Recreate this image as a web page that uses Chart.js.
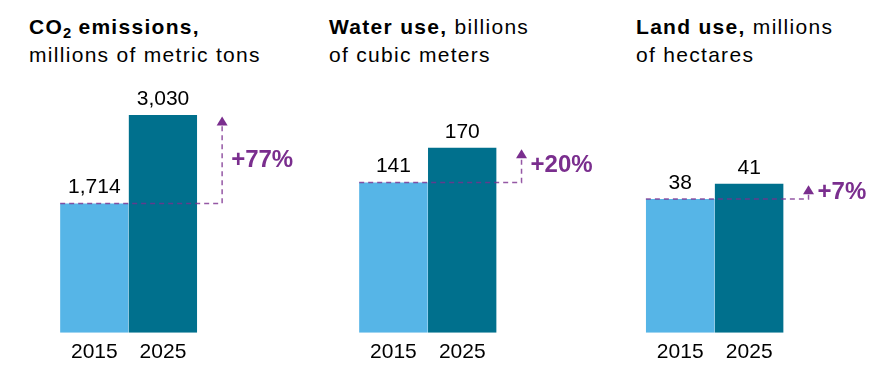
<!DOCTYPE html>
<html>
<head>
<meta charset="utf-8">
<script src="https://cdn.jsdelivr.net/npm/chart.js@4.4.1/dist/chart.umd.min.js"></script>
<style>
  html, body { margin: 0; padding: 0; background: #fff; }
  body { width: 882px; height: 372px; position: relative; overflow: hidden;
         font-family: "Liberation Sans", Arial, Helvetica, sans-serif; color: #000; }
  .title { position: absolute; top: 13px; font-size: 21px; line-height: 28px;
           letter-spacing: 1.3px; white-space: nowrap; }
  .title sub { font-size: 0.7em; line-height: 0; vertical-align: -0.25em; letter-spacing: 0; }
  canvas { position: absolute; top: 80px; }
</style>
</head>
<body>
<div class="title" style="left:29px"><b>CO<sub>2</sub> emissions,</b><br>millions of metric tons</div>
<div class="title" style="left:329px"><b>Water use,</b> billions<br>of cubic meters</div>
<div class="title" style="left:636px"><b>Land use,</b> millions<br>of hectares</div>

<canvas id="c0" width="300" height="292" style="left:0px"></canvas>
<canvas id="c1" width="300" height="292" style="left:300px"></canvas>
<canvas id="c2" width="282" height="292" style="left:600px"></canvas>

<script>
// data
const years = ['2015', '2025'];
const co2Values = [1714, 3030];
const waterValues = [141, 170];
const landValues = [38, 41];
const changeLabels = ['+77%', '+20%', '+7%'];
// value scale per panel (the original isn't drawn from zero)
const axisMin = [-214, 15, 11.8];
const axisMax = [3254, 210, 57.4];

const panels = [co2Values, waterValues, landValues];
const padLeft = [60, 59, 45.7];
const padRight = [102.7, 103.3, 98.3];

const FONT = '"Liberation Sans", Arial, Helvetica, sans-serif';
const LIGHT = '#56b5e7';
const DARK = '#00708d';
const PURPLE = '#7a2e8e';

// labels above bars + dashed change marker
const changePlugin = {
  id: 'change',
  afterDatasetsDraw(chart, args, opts) {
    const ctx = chart.ctx;
    const bars = chart.getDatasetMeta(0).data;
    const vals = chart.data.datasets[0].data;
    const b0 = bars[0], b1 = bars[1];

    ctx.save();
    ctx.font = '21px ' + FONT;
    ctx.fillStyle = '#000';
    ctx.textAlign = 'center';
    ctx.textBaseline = 'alphabetic';
    bars.forEach((b, i) => {
      ctx.fillText(vals[i].toLocaleString('en-US'), b.x, b.y - 10);
    });

    const lineY = b0.y;
    const xv = b1.x + b1.width / 2 + 25;
    const arrowH = 9, arrowW = 11;
    const tipY = Math.min(b1.y + 1.5, lineY - arrowH - 3);

    ctx.strokeStyle = 'rgba(122,46,142,0.8)';
    ctx.lineWidth = 1.5;
    ctx.setLineDash([5, 4]);
    ctx.beginPath();
    ctx.moveTo(b0.x - b0.width / 2, lineY);
    ctx.lineTo(xv, lineY);
    if (lineY - (tipY + arrowH) > 4) ctx.lineTo(xv, tipY + arrowH);
    ctx.stroke();
    ctx.setLineDash([]);

    ctx.fillStyle = PURPLE;
    ctx.beginPath();
    ctx.moveTo(xv, tipY);
    ctx.lineTo(xv + arrowW / 2, tipY + arrowH);
    ctx.lineTo(xv - arrowW / 2, tipY + arrowH);
    ctx.closePath();
    ctx.fill();

    ctx.font = 'bold 24px ' + FONT;
    ctx.textAlign = 'left';
    ctx.textBaseline = 'middle';
    ctx.fillText(opts.label, xv + 9, (lineY + tipY) / 2);
    ctx.restore();
  }
};

panels.forEach((values, i) => {
  new Chart(document.getElementById('c' + i), {
    type: 'bar',
    data: {
      labels: years,
      datasets: [{
        data: values,
        base: axisMin[i],
        backgroundColor: [LIGHT, DARK],
        borderWidth: 0,
        barPercentage: 1,
        categoryPercentage: 0.995,
      }],
    },
    options: {
      responsive: false,
      animation: false,
      layout: { padding: { left: padLeft[i], right: padRight[i], top: 20, bottom: 0 } },
      scales: {
        x: {
          grid: { display: false, drawTicks: false },
          border: { display: false },
          ticks: { color: '#000', font: { family: FONT, size: 21 }, padding: 7 },
        },
        y: { display: false, min: axisMin[i], max: axisMax[i] },
      },
      plugins: {
        legend: { display: false },
        tooltip: { enabled: false },
        change: { label: changeLabels[i] },
      },
    },
    plugins: [changePlugin],
  });
});
</script>
</body>
</html>
